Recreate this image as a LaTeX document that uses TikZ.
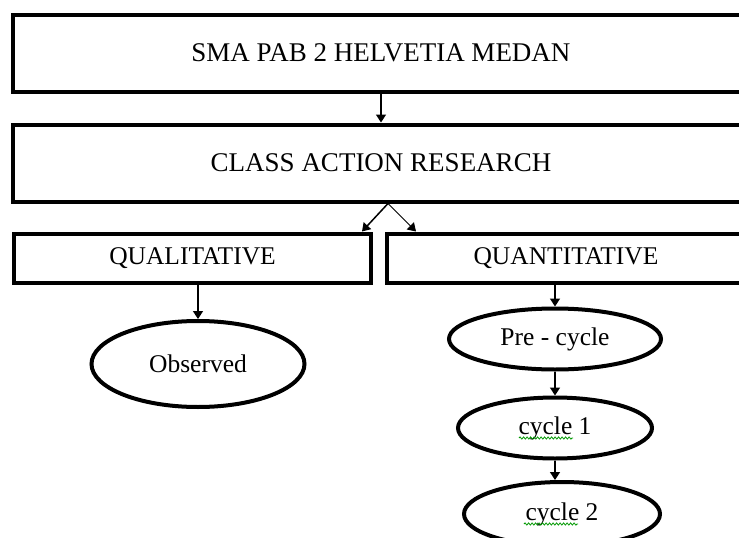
\documentclass[tikz,border=0pt]{standalone}
\usepackage{fontspec}
\setmainfont{Liberation Serif}
\usetikzlibrary{arrows.meta,shapes.geometric,calc,decorations.pathmorphing}
\begin{document}
\begin{tikzpicture}[x=1pt,y=-1pt,
  box/.style={draw,line width=4pt,rectangle,inner sep=0pt},
  oval/.style={draw,line width=4pt,ellipse,inner sep=0pt},
  big/.style={font=\fontsize{27}{31}\selectfont},
  mid/.style={font=\fontsize{25.5}{29}\selectfont},
  arr/.style={line width=1.5pt,-{Triangle[width=10pt,length=8pt]}},
  spell/.style={draw=green!60!black,line width=0.8pt,decorate,decoration={snake,amplitude=1.1pt,segment length=3.5pt}}]
\useasboundingbox (0,0) rectangle (739,538);
\fill[white] (0,0) rectangle (739,538);
\clip (0,0) rectangle (739,538);

\node[box,big,minimum width=736,minimum height=77] (top) at (381,53) {SMA PAB 2 HELVETIA MEDAN};
\node[box,big,minimum width=736,minimum height=77] (car) at (381,163) {CLASS ACTION RESEARCH};
\node[box,mid,minimum width=357,minimum height=49] (qual) at (192.5,258) {QUALITATIVE};
\node[box,mid,minimum width=358,minimum height=49] (quant) at (566,258) {QUANTITATIVE};

\node[oval,mid,minimum width=213,minimum height=86] (obs) at (198,364) {Observed};
\node[oval,mid,minimum width=212,minimum height=61] (pre) at (555,339) {Pre - cycle};
\node[oval,mid,minimum width=194,minimum height=61] (c1) at (555,428) {cycle 1};
\node[oval,mid,minimum width=196,minimum height=64] (c2) at (562,514) {cycle 2};

\coordinate (split) at ($(car.south)+(7,0)$);

\draw[arr] (top.south) -- (car.north);
\draw[arr] (split) -- ([xshift=-11pt]qual.north east);
\draw[line width=0.9pt,-{Triangle[width=10pt,length=8pt]}] (split) -- ([xshift=31pt]quant.north west);
\draw[arr] (qual.south -| obs.north) -- (obs.north);
\draw[arr] (quant.south -| pre.north) -- (pre.north);
\draw[arr] (pre.south) -- (c1.north);
\draw[arr] (c1.south) -- (c1.south |- c2.north);

\draw[spell] ($(c1.center)+(-36,10)$) -- ($(c1.center)+(18,10)$);
\draw[spell] ($(c2.center)+(-38,10)$) -- ($(c2.center)+(16,10)$);
\end{tikzpicture}
\end{document}
